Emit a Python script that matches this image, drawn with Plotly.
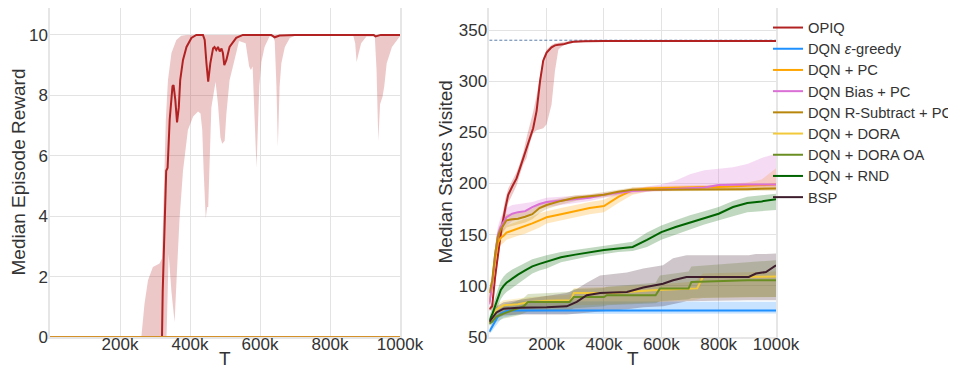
import plotly.graph_objects as go

FONT = "Liberation Sans, Arial, sans-serif"

# ---------------- Left panel: Median Episode Reward ----------------
L_MED_T = [0, 320, 322, 326, 332, 336, 342, 350, 353, 358, 363, 368, 372, 380, 390, 404, 418, 437, 442, 447,
           452, 458, 466, 470, 475, 480, 485, 490, 494, 498, 504, 513, 532, 551, 632, 637, 642, 656, 700, 925,
           930, 945, 1000]
L_MED = [0, 0, 1.5, 3.5, 5.5, 5.6, 7.2, 8.3, 8.34, 7.85, 7.1, 7.6, 8.5, 9.17, 9.6, 9.9, 10, 10, 9.83, 9.06,
         8.45, 9.06, 9.56, 9.6, 9.5, 9.6, 9.45, 9.55, 9.4, 9.0, 9.17, 9.6, 9.9, 10, 10, 9.96, 9.92, 9.98, 10, 10,
         9.95, 10, 10]
L_UP_T = [0, 261, 270, 280, 294, 313, 320, 323, 326, 331, 337, 347, 361, 375, 390, 1000]
L_UP = [0, 0, 1.1, 1.88, 2.32, 2.43, 2.6, 3.9, 5.5, 7.2, 8.5, 9.4, 9.83, 9.97, 10, 10]
L_LO_T = [0, 333, 339, 347, 356, 362, 370, 380, 394, 409, 423, 430, 435, 439, 445, 449, 452, 456, 461, 473,
          480, 487, 492, 499, 504, 513, 532, 540, 559, 569, 574, 579, 583, 590, 594, 598, 604, 613, 627, 637,
          642, 647, 651, 656, 661, 671, 685, 705, 866, 872, 876, 882, 889, 904, 928, 933, 938, 943, 950, 955,
          962, 977, 996, 1000]
L_LO = [0, 0, 2.75, 1.5, 0.5, 2.0, 3.9, 5.5, 6.85, 7.3, 7.46, 7.4, 6.85, 5.5, 3.92, 4.3, 4.3, 5.5, 7.6, 8.45,
        7.7, 6.6, 6.4, 6.5, 7.4, 8.5, 9.4, 9.8, 9.72, 8.95, 8.84, 8.95, 7.7, 5.6, 6.8, 8.3, 9.1, 9.6, 9.95, 9.95,
        9.8, 8.3, 6.3, 8.3, 9.06, 9.6, 9.9, 10, 10, 9.72, 9.1, 9.4, 9.72, 9.95, 9.95, 8.84, 6.5, 7.7, 7.95, 8.3,
        9.06, 9.6, 9.9, 9.95]
L_BASE_T = [0, 1000]
L_BASE = [0, 0]

# ---------------- Right panel: Median States Visited ----------------
T_R = [0, 10, 20, 30, 40, 50, 60, 80, 100, 125, 150, 175, 200, 250, 300, 350, 400, 450, 500, 550, 600, 650,
       700, 750, 800, 850, 900, 950, 1000]

OPIQ_T = [0, 10, 20, 30, 42, 56, 66, 80, 95, 107, 119, 130, 142, 153, 165, 177, 188, 200, 217, 229, 241, 258,
          276, 293, 334, 400, 1000]
OPIQ_MED = [77, 80, 108, 132, 155, 176, 189, 197, 205, 215, 225, 234, 243, 254, 271, 300, 320, 328, 333, 335,
            335.5, 336, 337.6, 338.6, 339, 339.3, 339.3]
OPIQ_UP = [79, 84, 116, 140, 163, 185, 195, 203, 211, 220, 231, 245, 258, 270, 286, 306, 323, 331, 335.3, 337,
           337.5, 338, 338.8, 339.5, 340, 340, 340]
OPIQ_LO = [75, 77, 100, 124, 147, 168, 181, 189, 198, 209, 219, 225, 240, 249, 252, 253, 254, 258, 277, 310,
           331, 335, 336.5, 337.5, 338.6, 339, 339]

EPS_MED = [55, 60, 66, 70, 73, 74.5, 75.5, 76, 76, 76, 76, 76, 76, 76, 76, 76, 76, 76, 76, 76, 76, 76, 76, 76,
           76, 76, 76, 76, 76]
EPS_UP = [58, 64, 71, 76, 80, 82, 83, 84, 84.5, 85, 85, 85, 85, 85, 85, 85, 85, 84.5, 84.5, 84.5, 84.5, 84.5,
          84.5, 84.5, 84.5, 84.5, 84.5, 84.5, 84.5]
EPS_LO = [53, 56, 60, 64, 67, 69, 70, 71, 72, 72.5, 73, 73, 73, 73, 73, 73, 73, 73, 73, 73, 73, 73, 73, 73, 73,
          73, 73, 73, 73]

PC_MED = [84, 100, 125, 142, 147, 149, 152, 154, 156, 158, 161, 164, 167, 170, 173, 176, 178, 187, 193.5, 195,
          195.5, 196, 196, 196.5, 196.5, 197, 197.5, 198, 199]
PC_UP = [88, 106, 132, 149, 154, 156, 159, 161, 163, 165, 168, 171, 173, 176, 179, 182, 184, 191, 196, 197,
         197.5, 198, 198, 198.5, 199, 200, 201, 204, 215]
PC_LO = [80, 94, 118, 135, 140, 142, 145, 147, 149, 151, 154, 157, 161, 164, 167, 170, 172, 181, 189, 192,
         193.5, 194, 194, 194.5, 194.5, 195, 195, 195, 195]

BIAS_MED = [82, 102, 130, 150, 158, 163, 167, 170.5, 172, 173, 177, 180, 182, 183.5, 184.5, 186, 189, 191,
            192.6, 193.5, 194, 194.5, 195, 196, 198.5, 199, 199, 199, 199]
BIAS_UP = [86, 108, 138, 158, 167, 172, 176, 179, 180, 181, 182, 184, 186, 187, 188, 189, 191, 193, 195, 197,
           199, 203, 209, 213, 214.5, 216, 219, 225, 229]
BIAS_LO = [78, 96, 122, 142, 150, 155, 159, 163, 165, 167, 171, 175, 177, 179.5, 181, 183, 186, 188, 190, 192,
           193, 193.5, 194, 194.5, 195, 195.5, 196, 196, 196]

RSUB_MED = [93, 105, 130, 148, 155, 160, 164, 165, 165.5, 167.5, 170, 176, 179, 183, 186, 187.5, 189, 192, 194,
            194, 194, 194, 194.5, 194.5, 194.5, 194.5, 194.5, 194.8, 195]
RSUB_UP = [96, 110, 137, 155, 162, 167, 170, 171, 171.5, 173, 175.5, 180, 183, 186, 188.5, 189.5, 191.5, 194,
           196, 196, 196, 196, 196.5, 196.5, 196.5, 196.5, 196.5, 197, 197]
RSUB_LO = [90, 100, 123, 141, 148, 153, 157, 159, 160, 162, 165, 171, 175, 179.5, 183, 185.5, 186.5, 189.5,
           192, 192.5, 192.5, 192.5, 193, 193, 193, 193, 193, 193, 193]

DORA_T = [0, 10, 25, 50, 100, 140, 200, 270, 285, 295, 430, 570, 710, 725, 745, 1000]
DORA_MED = [64, 68, 77, 81, 82, 84.3, 85.5, 86, 86, 93, 93, 95.7, 97.3, 97.5, 108.7, 109]
DORA_UP = [66, 72, 82, 86, 88, 89, 90, 91, 92, 98, 99, 101, 104, 106, 112, 114]
DORA_LO = [62, 65, 72, 75, 77, 78, 79, 79.5, 80, 81, 82, 84, 86, 87, 88, 89]

OA_T = [0, 10, 25, 50, 100, 120, 135, 280, 295, 400, 410, 580, 595, 695, 705, 900, 1000]
OA_MED = [63, 65, 70, 73, 78, 80, 84.3, 84.3, 89, 89, 90.8, 90.8, 97.3, 97.3, 103.8, 105.5, 105.5]
OA_UP = [65, 69, 76, 80, 86, 88, 92, 94, 97, 98, 99, 103, 110, 114, 119, 123, 125]
OA_LO = [61, 62, 65, 68, 71, 73, 75, 76, 78, 80, 81, 83, 85, 87, 88, 89, 89]

RND_MED = [66, 72, 80, 88, 96, 100, 103, 107, 111, 115, 119, 121.5, 123.5, 128, 130.5, 133, 135, 136.5, 138,
           145, 152.5, 157.5, 162, 166.5, 170.5, 177, 181, 182.5, 184.5]
RND_UP = [70, 78, 88, 97, 105, 109, 112, 116, 119, 123, 126, 128, 130, 133, 135, 137, 139, 141, 143, 152, 159,
          164, 169, 173, 177, 183, 187, 188.5, 190]
RND_LO = [63, 67, 73, 80, 87, 91, 94, 98, 102, 107, 112, 115, 117, 123, 126, 129, 131, 133, 134, 138, 145, 150,
          155, 160, 164, 168, 172, 173, 174]

BSP_T = [0, 10, 25, 50, 100, 200, 270, 305, 340, 386, 480, 537, 606, 641, 688, 905, 930, 965, 1000]
BSP_MED = [64.7, 68, 74, 77.7, 78.5, 79, 80, 84.3, 90.8, 93, 94, 98.4, 102, 105.5, 108.7, 108.7, 112, 113.5, 120]
BSP_UP = [67, 72, 80, 84, 86, 90, 93, 97, 103, 110, 113, 117, 120, 127, 130, 130, 131, 131, 131.5]
BSP_LO = [62, 64, 68, 71, 72, 72, 72, 73, 74, 75, 77, 79, 80, 82, 85, 86, 86, 86, 86]

OPTIMUM_T = [0, 1000]
OPTIMUM = [340, 340]

X_TICKS = [200, 400, 600, 800, 1000]
X_TICKTEXT = ["200k", "400k", "600k", "800k", "1000k"]
Y_TICKS_L = [0, 2, 4, 6, 8, 10]
Y_TICKS_R = [50, 100, 150, 200, 250, 300, 350]

SERIES = [
    ("OPIQ", "#b22222", OPIQ_T, OPIQ_MED, OPIQ_UP, OPIQ_LO),
    ("DQN <i>ε</i>-greedy", "#1e90ff", T_R, EPS_MED, EPS_UP, EPS_LO),
    ("DQN + PC", "#ffa500", T_R, PC_MED, PC_UP, PC_LO),
    ("DQN Bias + PC", "#da70d6", T_R, BIAS_MED, BIAS_UP, BIAS_LO),
    ("DQN R-Subtract + PC", "#b8860b", T_R, RSUB_MED, RSUB_UP, RSUB_LO),
    ("DQN + DORA", "#f2c93a", DORA_T, DORA_MED, DORA_UP, DORA_LO),
    ("DQN + DORA OA", "#6b8e23", OA_T, OA_MED, OA_UP, OA_LO),
    ("DQN + RND", "#006400", T_R, RND_MED, RND_UP, RND_LO),
    ("BSP", "#3d1c2c", BSP_T, BSP_MED, BSP_UP, BSP_LO),
]


def rgba(hexc, a):
    h = hexc.lstrip("#")
    r, g, b = int(h[0:2], 16), int(h[2:4], 16), int(h[4:6], 16)
    return f"rgba({r},{g},{b},{a})"


fig = go.Figure()

# left band + lines
fig.add_trace(go.Scatter(x=L_UP_T + L_LO_T[::-1], y=L_UP + L_LO[::-1], fill="toself",
                         fillcolor=rgba("#b22222", 0.25), line=dict(width=0), mode="lines",
                         hoverinfo="skip", showlegend=False, xaxis="x", yaxis="y"))
fig.add_trace(go.Scatter(x=L_MED_T, y=L_MED, mode="lines", line=dict(color="#b22222", width=2),
                         showlegend=False, xaxis="x", yaxis="y"))
fig.add_trace(go.Scatter(x=L_BASE_T, y=L_BASE, mode="lines", line=dict(color="#d4912a", width=2),
                         showlegend=False, xaxis="x", yaxis="y"))

# right bands
for name, col, t, med, up, lo in SERIES:
    fig.add_trace(go.Scatter(x=t + t[::-1], y=up + lo[::-1], fill="toself", fillcolor=rgba(col, 0.25),
                             line=dict(width=0), mode="lines", hoverinfo="skip", showlegend=False,
                             xaxis="x2", yaxis="y2"))
# optimum dashed line
fig.add_trace(go.Scatter(x=OPTIMUM_T, y=OPTIMUM, mode="lines",
                         line=dict(color="#5a7fa8", width=1, dash="3px,2px"), showlegend=False,
                         xaxis="x2", yaxis="y2"))
# right lines
for name, col, t, med, up, lo in SERIES:
    fig.add_trace(go.Scatter(x=t, y=med, mode="lines",
                             name=f'<span style="font-size:14.7px">{name}</span>',
                             line=dict(color=col, width=2), xaxis="x2", yaxis="y2"))

axis_common = dict(showgrid=True, gridcolor="#e3e3e3", gridwidth=1, zeroline=False, showline=True,
                   mirror=True, linecolor="#e6e6e6", linewidth=1.5, ticks="", ticklen=0, automargin=False,
                   tickfont=dict(family=FONT, size=17, color="#333333"))

title_font = dict(family=FONT, size=19, color="#333333")
annotations = [
    dict(text="T", xref="x domain", yref="paper", x=0.5, y=0, xanchor="center", yanchor="bottom",
         yshift=-34.3, showarrow=False, font=title_font),
    dict(text="T", xref="x2 domain", yref="paper", x=0.5, y=0, xanchor="center", yanchor="bottom",
         yshift=-34.3, showarrow=False, font=title_font),
    dict(text="Median Episode Reward", xref="x domain", yref="paper", x=0, y=0.5, xanchor="center",
         yanchor="middle", xshift=-32, textangle=-90, showarrow=False, font=title_font),
    dict(text="Median States Visited", xref="x2 domain", yref="paper", x=0, y=0.5, xanchor="center",
         yanchor="middle", xshift=-44.3, textangle=-90, showarrow=False, font=title_font),
]

# The page body adds an 8px margin, so the figure is 948x362 and placed to land on the 956x370 window.
fig.update_layout(
    width=948, height=362,
    margin=dict(l=42, r=180, t=0, b=33.3, autoexpand=False),
    paper_bgcolor="white", plot_bgcolor="white",
    font=dict(family=FONT, color="#333333"),
    xaxis=dict(domain=[0, 0.4821], range=[0, 1000], tickvals=X_TICKS, ticktext=X_TICKTEXT,
               ticklabelstandoff=-9, **axis_common),
    yaxis=dict(range=[0, 10.89], tickvals=Y_TICKS_L, ticklabelstandoff=-3, **axis_common),
    xaxis2=dict(domain=[0.6051, 1], range=[0, 1000], tickvals=X_TICKS, ticktext=X_TICKTEXT, anchor="y2",
                ticklabelstandoff=-9, **axis_common),
    yaxis2=dict(range=[50, 371.5], tickvals=Y_TICKS_R, anchor="x2", ticklabelstandoff=-3, **axis_common),
    legend=dict(x=(760 - 42) / 726, xanchor="left", y=0.988, yanchor="top", maxheight=340,
                font=dict(family=FONT, size=14, color="#333333"),
                bgcolor="rgba(0,0,0,0)", tracegroupgap=0),
    annotations=annotations,
    showlegend=True,
)

fig.write_html("out.html")
